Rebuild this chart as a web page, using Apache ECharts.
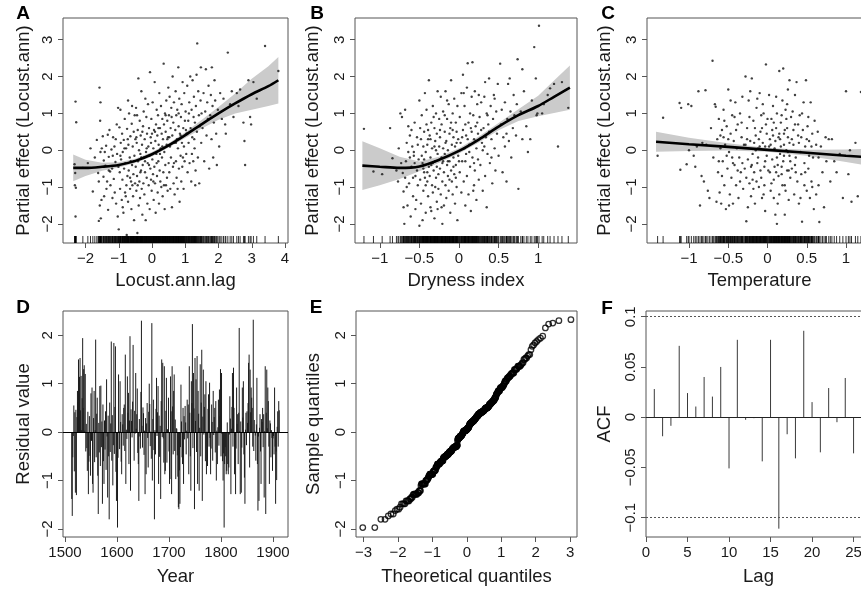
<!DOCTYPE html>
<html>
<head>
<meta charset="utf-8">
<script src="https://cdn.jsdelivr.net/npm/echarts@6.0.0/dist/echarts.min.js"></script>
<style>
  html, body { margin: 0; padding: 0; background: #fff; }
  #chart { width: 861px; height: 594px; }
</style>
</head>
<body>
<div id="chart"></div>
<script>
// ---- A: partial effect of Locust.ann.lag ----
const lagPts = [
  [-2.3,1.32],[-2.28,0.76],[-2.33,-0.38],[-2.31,-0.62],[-2.32,-0.95],[-2.29,-1.02],[-2.3,-1.8],[-2.08,-0.48],
  [-1.93,-0.35],[-1.85,0.05],[-1.78,-1.12],[-1.72,-0.2],[-1.66,0.28],[-1.62,-0.62],[-1.6,-0.85],[-1.58,1.7],
  [-1.55,1.3],[-1.56,0.8],[-1.57,-1.5],[-1.54,-1.85],[-1.52,-1.35],[-1.51,0.05],[-1.55,-0.05],[-1.6,-1.92],
  [-1.48,0.38],[-1.46,-0.72],[-1.45,-0.28],[-1.44,-1.25],[-1.42,-0.05],[-1.4,-0.42],[-1.38,0.12],[-1.37,-1.05],
  [-1.35,-0.85],[-1.33,0.42],[-1.32,-1.62],[-1.3,-0.18],[-1.28,0.55],[-1.26,-0.58],[-1.25,-0.95],[-1.22,0.02],
  [-1.2,-0.5],[-1.19,-1.3],[-1.17,0.35],[-1.15,-0.78],[-1.13,0.1],[-1.12,-1.15],[-1.1,-0.32],[-1.08,-1.45],
  [-1.06,0.7],[-1.05,-0.1],[-1.03,-1.8],[-1.02,1.15],[-1.01,-0.45],[-1.0,-2.15],
  [-0.98,0.62],[-0.97,-0.6],[-0.96,-1.05],[-0.95,1.1],[-0.94,0.2],[-0.93,-0.25],[-0.91,-1.35],[-0.9,0.45],
  [-0.89,-0.8],[-0.88,-0.05],[-0.86,-1.7],[-0.85,0.28],[-0.84,-0.5],[-0.82,0.85],[-0.81,-1.15],[-0.8,-0.35],
  [-0.78,0.05],[-0.77,-0.95],[-0.76,-2.3],[-0.75,0.58],[-0.74,-0.7],[-0.72,-1.4],[-0.71,0.15],[-0.7,-0.55],
  [-0.69,1.0],[-0.67,-0.2],[-0.66,-1.05],[-0.65,0.38],[-0.63,-0.85],[-0.62,-1.6],[-0.61,0.72],[-0.6,-0.4],
  [-0.58,0.1],[-0.57,-1.25],[-0.56,-0.65],[-0.55,0.5],[-0.54,-1.9],[-0.53,-0.15],[-0.52,0.95],[-0.51,-0.9],
  [-0.5,0.3],[-0.6,1.2],[-0.72,1.35],[-0.88,-1.55],[-0.66,-0.75],
  [-0.49,-0.45],[-0.48,1.15],[-0.47,-1.1],[-0.46,0.2],[-0.45,-0.7],[-0.44,-2.25],[-0.43,0.55],[-0.42,-0.3],
  [-0.41,1.95],[-0.4,-1.5],[-0.39,0.0],[-0.38,-0.85],[-0.37,0.8],[-0.36,-1.3],[-0.35,-0.1],[-0.34,0.4],
  [-0.33,-0.55],[-0.32,1.6],[-0.31,-1.05],[-0.3,0.15],[-0.29,-1.75],[-0.28,-0.4],[-0.27,0.65],[-0.26,-0.9],
  [-0.25,1.05],[-0.24,-0.2],[-0.23,-1.2],[-0.22,0.3],[-0.21,-0.6],[-0.2,1.4],[-0.19,-1.9],[-0.18,-0.05],
  [-0.17,0.9],[-0.16,-0.75],[-0.15,0.45],[-0.14,-1.45],[-0.13,-0.35],[-0.12,1.25],[-0.11,0.1],[-0.1,-0.95],
  [-0.09,0.6],[-0.08,-0.15],[-0.07,-1.6],[-0.06,2.12],[-0.05,-0.5],[-0.04,0.35],[-0.03,-0.8],[-0.02,0.85],
  [-0.01,-1.1],[-0.45,0.95],
  [0.01,-0.25],[0.02,1.3],[0.03,-0.65],[0.04,0.05],[0.05,-1.35],[0.06,0.55],[0.07,-0.45],[0.08,1.85],
  [0.09,-0.9],[0.1,0.25],[0.11,-1.7],[0.12,0.7],[0.13,-0.1],[0.14,1.1],[0.15,-0.7],[0.16,0.4],
  [0.17,-1.15],[0.18,0.95],[0.19,-0.3],[0.2,0.15],[0.21,-1.45],[0.22,1.55],[0.23,-0.55],[0.24,0.6],
  [0.25,-0.85],[0.26,0.05],[0.27,1.2],[0.28,-1.0],[0.29,0.45],[0.3,-0.2],[0.31,0.85],[0.32,-1.25],
  [0.33,0.3],[0.34,-0.6],[0.35,2.35],[0.36,0.7],[0.37,-0.05],[0.38,-1.6],[0.39,1.0],[0.4,-0.4],
  [0.41,0.5],[0.42,-0.95],[0.43,1.35],[0.44,0.15],[0.45,-0.75],[0.46,0.8],[0.47,-1.1],[0.48,0.35],
  [0.49,1.7],[0.5,-0.35],
  [0.51,0.95],[0.52,-0.6],[0.53,1.45],[0.54,0.1],[0.55,-1.05],[0.56,0.6],[0.57,-0.2],[0.58,1.15],
  [0.6,-1.55],[0.61,0.4],[0.62,2.0],[0.63,-0.45],[0.64,0.75],[0.65,-0.9],[0.66,1.3],[0.67,0.2],
  [0.68,-1.2],[0.7,0.55],[0.71,1.6],[0.72,-0.3],[0.73,0.95],[0.74,-0.75],[0.75,0.3],[0.76,1.1],
  [0.77,-1.05],[0.78,0.05],[0.79,2.25],[0.8,0.65],[0.81,-0.5],[0.82,1.4],[0.83,-1.4],[0.84,0.45],
  [0.86,-0.15],[0.87,0.9],[0.88,-0.85],[0.89,1.25],[0.9,0.2],[0.91,-0.45],[0.92,1.85],[0.94,0.6],
  [0.95,-1.05],[0.96,0.1],[0.97,1.55],[0.98,-0.3],[0.99,0.8],
  [1.01,1.05],[1.03,-0.1],[1.04,0.45],[1.06,1.75],[1.07,-0.6],[1.09,0.8],[1.1,0.2],[1.12,1.3],
  [1.13,-0.35],[1.15,2.0],[1.16,0.6],[1.18,-0.85],[1.19,1.1],[1.21,0.35],[1.22,1.9],[1.24,-0.3],
  [1.25,0.9],[1.26,1.45],[1.28,0.05],[1.29,0.75],[1.31,-0.55],[1.32,1.2],[1.34,2.05],[1.35,0.5],
  [1.36,2.9],[1.38,-0.2],[1.39,1.6],[1.41,0.95],[1.42,-0.9],[1.44,0.65],[1.46,1.35],[1.47,2.25],
  [1.48,0.2],[1.49,1.0],[1.3,-0.95],
  [1.52,0.6],[1.55,1.55],[1.57,-0.3],[1.6,1.05],[1.62,2.2],[1.64,0.4],[1.66,1.3],[1.68,0.85],
  [1.7,1.75],[1.72,-0.5],[1.75,0.95],[1.77,1.5],[1.79,0.3],[1.8,2.25],[1.82,1.2],[1.84,-0.2],
  [1.86,0.75],[1.88,1.9],[1.9,1.35],[1.93,0.45],[1.95,-0.4],[1.98,1.1],
  [2.02,0.1],[2.05,1.55],[2.1,0.85],[2.15,1.4],[2.2,0.7],[2.22,0.45],[2.28,2.65],[2.35,1.25],
  [2.4,1.6],[2.45,0.9],[2.55,1.55],[2.6,1.2],[2.65,1.65],[2.75,0.75],[2.78,0.25],[2.8,-0.4],
  [2.9,1.9],[2.95,0.9],[2.98,0.7],[3.05,1.85],[3.15,1.4],[3.4,2.83],[3.8,2.15],
  [-0.95,-0.15],[-0.83,0.05],[-0.79,-1.25],[-0.64,-0.3],[-0.59,-0.95],[-0.47,0.35],[-0.43,-0.95],[-0.35,-0.6],
  [-0.29,0.5],[-0.21,-0.3],[-0.16,0.05],[-0.09,-0.4],[-0.03,0.2],[0.04,-0.85],[0.09,0.5],[0.14,-0.35],
  [0.19,0.6],[0.24,-0.1],[0.31,0.1],[0.36,-0.95],[0.41,0.95],[0.46,0.3],[0.52,0.35],[0.59,0.9],
  [0.66,-0.35],[0.72,0.2],[0.8,1.0],[0.86,0.4],[0.93,-0.2],[1.02,0.55],[1.11,1.0],[1.2,-0.1],
  [1.27,0.3],[-1.18,-0.15],[-1.3,-0.55],[-1.09,0.3],[-0.73,0.3],[-0.55,-0.3],[-0.32,-0.2],[0.0,0.45]
];
const lagFitX = [-2.37, -2, -1.5, -1, -0.5, 0, 0.5, 1, 1.5, 2, 2.5, 3, 3.5, 3.8];
const lagFit  = [-0.48, -0.48, -0.45, -0.4, -0.29, -0.11, 0.13, 0.41, 0.71, 1.0, 1.27, 1.52, 1.74, 1.9];
const lagCI   = [0.36, 0.22, 0.11, 0.07, 0.06, 0.06, 0.06, 0.08, 0.12, 0.17, 0.27, 0.42, 0.54, 0.63];

// ---- B: Dryness index ----
const dryPts = [
  [-1.2,0.58],[-1.08,-0.58],[-0.97,-0.65],[-0.87,0.6],[-0.84,-0.22],[-0.79,-0.55],[-0.77,-0.85],[-0.76,0.05],
  [-0.74,1.0],[-0.72,0.9],[-0.71,-0.62],[-0.7,-1.12],[-0.7,-1.55],[-0.69,-2.0],[-0.68,1.1],[-0.67,-0.3],
  [-0.66,0.2],[-0.65,-1.5],[-0.64,-0.05],[-0.63,-0.9],[-0.62,0.4],[-0.61,-1.8],[-0.6,-0.45],[-0.59,0.1],
  [-0.58,-1.25],[-0.57,-0.15],[-0.56,0.75],[-0.55,-0.7],[-0.54,-1.35],[-0.53,0.35],[-0.52,-0.95],[-0.51,-0.25],
  [-0.5,1.35],[-0.5,-2.05],[-0.73,-0.35],[-0.66,-1.0],[-0.6,0.55],[-0.55,-1.6],[-0.53,-0.55],[-0.58,-0.75],
  [-0.64,0.65],[-0.57,-0.05],[-0.52,0.15],
  [-0.49,-0.8],[-0.48,0.3],[-0.48,-1.45],[-0.47,0.95],[-0.46,-0.35],[-0.45,-1.1],[-0.44,0.5],[-0.44,-0.6],
  [-0.43,1.55],[-0.42,-0.05],[-0.42,-1.7],[-0.41,0.7],[-0.4,-0.85],[-0.4,0.15],[-0.39,-1.25],[-0.38,1.9],
  [-0.38,-0.45],[-0.37,0.4],[-0.36,-1.55],[-0.36,-0.2],[-0.35,0.75],[-0.34,-0.95],[-0.34,0.05],[-0.33,1.2],
  [-0.33,-1.15],[-0.32,-0.55],[-0.31,0.6],[-0.31,-1.85],[-0.3,-0.3],[-0.3,0.25],[-0.29,1.0],[-0.29,-0.75],
  [-0.28,-1.4],[-0.28,0.45],[-0.27,-0.1],[-0.27,1.6],[-0.26,-0.65],[-0.26,-1.05],[-0.25,0.1],[-0.25,0.85],
  [-0.46,-1.9],[-0.41,1.1],[-0.39,0.55],[-0.37,-0.7],[-0.35,-1.65],[-0.32,0.9],[-0.3,-1.0],[-0.27,-1.6],
  [-0.44,-0.25],[-0.4,-0.6],[-0.36,0.3],[-0.33,-0.35],[-0.29,0.0],[-0.45,0.1],[-0.42,-0.95],
  [-0.24,-0.5],[-0.24,0.35],[-0.23,-1.2],[-0.23,1.45],[-0.22,-0.2],[-0.22,0.7],[-0.21,-0.85],[-0.21,-2.0],
  [-0.2,0.05],[-0.2,1.05],[-0.19,-0.6],[-0.19,-1.5],[-0.18,0.5],[-0.18,-0.1],[-0.17,1.6],[-0.17,-0.95],
  [-0.16,0.25],[-0.16,-1.3],[-0.15,-0.4],[-0.15,0.85],[-0.14,-0.7],[-0.14,0.0],[-0.13,1.25],[-0.13,-1.1],
  [-0.12,0.45],[-0.12,-0.3],[-0.11,-1.7],[-0.11,0.6],[-0.1,-0.55],[-0.1,1.9],[-0.09,0.15],[-0.09,-0.85],
  [-0.08,1.0],[-0.08,-1.2],[-0.07,-0.2],[-0.07,0.35],[-0.06,-0.65],[-0.06,1.4],[-0.05,-1.45],[-0.05,0.1],
  [-0.04,0.75],[-0.04,-0.4],[-0.03,-1.0],[-0.03,0.5],[-0.02,-1.9],[-0.02,1.2],[-0.01,-0.15],[-0.01,0.3],
  [-0.22,-1.55],[-0.18,0.95],[-0.12,-0.8],[-0.08,0.55],[-0.04,-0.75],[-0.15,1.35],[-0.2,-0.3],
  [0.01,-0.6],[0.01,0.9],[0.02,0.2],[0.03,-1.15],[0.03,1.55],[0.04,-0.3],[0.05,0.55],[0.05,2.05],
  [0.06,-0.85],[0.07,0.05],[0.07,1.2],[0.08,-1.5],[0.09,0.4],[0.09,-0.1],[0.1,1.7],[0.1,-0.7],
  [0.11,2.36],[0.12,0.75],[0.12,-1.2],[0.13,0.15],[0.14,1.0],[0.14,-0.45],[0.15,-1.65],[0.16,0.5],
  [0.16,1.45],[0.17,2.39],[0.17,-0.2],[0.18,0.95],[0.19,-0.95],[0.19,0.3],[0.2,1.6],[0.2,-0.55],
  [0.21,0.65],[0.22,-1.35],[0.22,0.05],[0.23,1.25],[0.24,-0.25],[0.24,0.45],[0.25,1.5],[0.25,-0.8],
  [0.06,1.55],[0.13,-0.05],[0.18,-1.1],[0.08,0.7],[0.21,0.25],
  [0.26,0.9],[0.27,-0.4],[0.28,1.3],[0.29,0.2],[0.3,-1.1],[0.31,0.6],[0.32,1.45],[0.33,-0.7],
  [0.34,0.35],[0.35,-1.55],[0.35,1.0],[0.36,-0.1],[0.37,0.7],[0.38,1.95],[0.39,-0.35],[0.4,1.2],
  [0.41,0.3],[0.42,-0.9],[0.43,0.85],[0.44,1.5],[0.45,0.05],[0.46,-0.55],[0.47,1.05],[0.48,0.45],
  [0.49,1.8],[0.5,-0.15],[0.3,0.0],[0.38,0.5],[0.45,1.4],[0.33,1.85],
  [0.52,2.35],[0.53,0.7],[0.55,-0.6],[0.56,0.35],[0.58,1.3],[0.6,-0.85],[0.61,0.85],[0.62,1.8],
  [0.63,0.25],[0.65,1.05],[0.66,-0.2],[0.68,0.6],[0.69,1.5],[0.7,0.95],[0.72,0.4],[0.74,2.47],
  [0.75,-1.05],[0.73,1.25],[0.58,0.1],[0.64,1.95],
  [0.78,1.05],[0.8,0.3],[0.8,2.2],[0.82,1.6],[0.85,0.65],[0.87,-0.05],[0.9,0.3],[0.92,1.35],
  [0.95,2.8],[0.97,1.95],[0.98,0.95],[0.99,1.0],
  [1.01,3.38],[1.05,1.0],[1.07,1.25],[1.12,1.5],[1.15,1.68],[1.2,1.8],[1.25,0.1],[1.3,1.85],[1.38,1.15],
  [-0.49,0.6],[-0.47,-0.15],[-0.43,-0.75],[-0.39,0.3],[-0.35,-0.4],[-0.31,0.1],[-0.28,-0.45],[-0.24,0.55],
  [-0.21,-0.35],[-0.17,0.2],[-0.14,-0.3],[-0.1,0.75],[-0.07,-0.45],[-0.03,0.2],[0.0,-0.3],[0.04,0.35],
  [0.08,-0.3],[0.11,0.3],[0.15,0.6],[0.19,-0.35],[0.23,0.75],[0.28,0.55],[0.32,0.1],[0.36,0.95],
  [0.41,-0.2],[0.47,0.6],[0.54,1.1],[0.6,0.45],[-0.62,-0.2],[-0.56,-0.35],[-0.68,-0.75],[-0.45,-0.5]
];
const dryFitX = [-1.22, -1, -0.75, -0.5, -0.25, 0, 0.25, 0.5, 0.75, 1, 1.2, 1.4];
const dryFit  = [-0.42, -0.45, -0.48, -0.44, -0.26, -0.02, 0.29, 0.64, 0.95, 1.2, 1.45, 1.7];
const dryCI   = [0.66, 0.5, 0.3, 0.13, 0.08, 0.07, 0.08, 0.1, 0.16, 0.28, 0.44, 0.6];

// ---- C: Temperature ----
const tempPts = [
  [-1.4,-0.15],[-1.33,0.88],[-1.12,1.28],[-1.1,1.15],[-1.11,-0.53],[-1.03,-0.38],[-1.01,1.25],[-1.0,0.0],
  [-0.97,1.2],[-0.94,-0.15],[-0.92,-0.45],[-0.9,0.1],[-0.88,1.6],[-0.86,-1.5],[-0.84,-0.7],[-0.83,0.2],
  [-0.81,-0.85],[-0.79,1.63],[-0.78,0.15],[-0.76,-1.1],[-0.74,-1.3],[-0.72,0.6],[-0.7,2.43],[-0.69,-0.2],
  [-0.67,1.25],[-0.66,1.18],[-0.65,-1.4],[-0.64,0.3],[-0.63,-0.6],[-0.62,0.85],[-0.61,-1.15],[-0.6,0.05],[-0.6,0.4],
  [-0.59,-1.45],[-0.58,0.55],[-0.57,-0.3],[-0.56,1.1],[-0.55,-0.95],[-0.54,0.15],[-0.53,-1.6],[-0.52,0.65],
  [-0.51,-0.5],[-0.5,1.65],[-0.49,-0.05],[-0.48,-1.2],[-0.47,0.45],[-0.46,-0.75],[-0.45,0.95],[-0.44,-1.45],
  [-0.43,0.25],[-0.42,-0.4],[-0.41,1.3],[-0.4,-0.95],[-0.39,0.05],[-0.38,0.7],[-0.37,-1.3],[-0.36,-0.2],
  [-0.35,1.0],[-0.34,-0.6],[-0.33,0.35],[-0.32,1.45],[-0.31,-1.05],[-0.3,0.15],[-0.58,-0.7],[-0.52,-0.15],
  [-0.47,1.35],[-0.44,-0.35],[-0.4,0.55],[-0.35,-0.85],[-0.32,-0.35],[-0.49,-1.5],[-0.56,0.35],[-0.42,0.9],
  [-0.29,-0.5],[-0.28,2.0],[-0.27,-1.93],[-0.26,0.6],[-0.25,-0.25],[-0.24,1.35],[-0.23,-0.9],[-0.22,0.25],
  [-0.21,-1.25],[-0.2,1.95],[-0.19,-0.1],[-0.18,0.8],[-0.17,-0.6],[-0.16,-1.45],[-0.15,0.4],[-0.14,1.15],
  [-0.13,-0.35],[-0.12,0.05],[-0.11,-1.0],[-0.1,1.55],[-0.09,0.5],[-0.08,-0.75],[-0.07,-1.3],[-0.06,0.2],
  [-0.05,1.0],[-0.04,-0.45],[-0.03,-1.65],[-0.02,2.33],[-0.02,0.7],[-0.01,-0.15],[-0.28,0.15],[-0.25,-1.55],
  [-0.23,0.9],[-0.2,-0.4],[-0.18,-1.05],[-0.15,0.0],[-0.13,1.4],[-0.11,0.3],[-0.09,-0.55],[-0.06,1.25],
  [-0.04,-0.95],[-0.01,0.45],[-0.27,-0.75],[-0.22,1.6],[-0.16,0.6],[-0.12,-0.2],[-0.08,0.95],[-0.05,-1.2],
  [-0.03,0.1],[-0.19,-0.8],
  [0.01,-0.55],[0.02,1.5],[0.03,0.3],[0.04,-1.1],[0.05,0.85],[0.06,-0.25],[0.07,1.2],[0.08,-0.8],
  [0.09,0.05],[0.1,-1.75],[0.11,0.6],[0.12,-2.0],[0.12,1.0],[0.13,-0.4],[0.14,0.35],[0.15,2.15],
  [0.15,-1.2],[0.16,-0.1],[0.17,0.75],[0.18,-0.65],[0.19,1.35],[0.2,2.22],[0.2,-0.3],[0.21,0.45],
  [0.22,-1.75],[0.22,-0.95],[0.23,1.1],[0.24,0.0],[0.25,-0.55],[0.25,0.6],[0.26,1.65],[0.27,-1.35],
  [0.28,1.9],[0.28,0.2],[0.29,-0.75],[0.3,0.9],[0.03,-0.6],[0.06,0.55],[0.09,-0.45],[0.11,1.45],
  [0.13,-1.45],[0.16,0.3],[0.18,0.95],[0.21,-0.15],[0.23,-1.1],[0.26,0.35],[0.29,-0.3],[0.02,0.1],
  [0.08,-1.3],[0.14,-0.7],[0.17,0.1],[0.24,0.85],[0.27,-0.55],[0.05,-0.9],[0.1,0.25],[0.19,-0.95],
  [0.22,0.55],[0.12,-0.2],[0.26,-0.05],[0.07,0.4],
  [0.31,-0.5],[0.32,1.05],[0.33,0.15],[0.34,-1.2],[0.35,0.7],[0.36,-0.2],[0.37,1.85],[0.38,-0.85],
  [0.39,0.4],[0.4,-1.45],[0.41,0.95],[0.42,-0.05],[0.43,-0.65],[0.44,-1.94],[0.45,0.55],[0.46,1.3],
  [0.47,-0.35],[0.48,0.1],[0.49,1.9],[0.5,-1.1],[0.51,0.65],[0.52,-0.5],[0.53,0.25],[0.54,-1.3],
  [0.55,1.3],[0.56,-0.85],[0.57,0.45],[0.58,-0.2],[0.59,-1.6],[0.6,0.8],[0.33,0.55],[0.36,-0.6],
  [0.4,0.2],[0.44,1.0],[0.47,-0.95],[0.5,0.3],[0.53,-0.15],[0.57,-1.0],[0.35,1.5],[0.42,-1.3],
  [0.62,-1.2],[0.64,0.5],[0.65,-0.95],[0.66,-1.95],[0.68,0.1],[0.7,-0.6],[0.72,-1.55],[0.74,0.35],
  [0.75,-0.3],[0.78,0.3],[0.8,-0.85],[0.82,0.3],[0.85,-0.3],[0.88,-0.6],[0.62,0.15],
  [0.92,-0.1],[0.96,-1.3],[1.0,1.6],[1.03,-0.65],[1.05,0.0],[1.07,-1.4],[1.12,0.2],[1.15,-1.25],[1.19,1.58],
  [-0.5,0.3],[-0.45,-0.2],[-0.38,-0.55],[-0.33,0.75],[-0.26,0.3],[-0.21,-0.45],[-0.17,0.2],[-0.14,-0.85],
  [-0.1,0.1],[-0.07,0.6],[-0.03,-0.3],[0.0,0.85],[0.04,0.15],[0.08,0.75],[0.11,-0.6],[0.15,0.45],
  [0.18,-0.45],[0.21,0.15],[0.25,1.25],[0.28,-0.15],[0.31,0.3],[0.35,-0.4],[0.39,0.7],[0.43,0.35],
  [0.48,-0.6],[0.52,0.9],[0.56,0.1],[-0.62,-0.3],[-0.55,0.8],[0.65,-0.2]
];
const tempFitX = [-1.42, -1, -0.5, 0, 0.5, 1, 1.33];
const tempFit  = [0.23, 0.16, 0.09, 0.01, -0.07, -0.15, -0.2];
const tempCI   = [0.27, 0.18, 0.1, 0.05, 0.08, 0.17, 0.24];

// ---- D: residuals by year (1513-1912) ----
const firstYear = 1513;
const residuals = [
  -1.38,-1.73,-0.52,-0.08,0.55,-0.81,0.41,-1.25,0.46,-1.3,0.31,0.85,0.62,1.5,0.79,1.14,1.53,0.45,1.16,0.04,
  0.7,1.94,0.5,1.3,1.38,0.03,1.2,-0.4,0.17,-0.33,-0.8,0.42,-1.28,-0.61,0.33,-0.49,-0.9,0.8,-0.18,0.92,
  -1.07,-1.25,0.29,0.85,-0.62,0.04,1.91,-0.52,0.38,0.71,-0.9,-1.69,0.19,-0.42,0.95,-0.7,0.96,-0.31,0.22,-1.48,
  0.57,-0.6,-1.07,0.24,-0.36,0.43,-0.78,1.09,-0.09,-1.35,0.34,-0.5,-1.8,0.61,-0.41,0.18,1.87,-0.59,0.35,-1.1,
  -0.27,1.84,-0.45,0.52,1.77,-0.82,-1.42,-0.02,-1.97,-0.53,1.19,0.02,-0.35,1.05,0.21,-0.61,-0.87,0.37,0.16,-0.28,
  0.5,0.57,-0.39,1.6,-1.07,0.05,-0.14,1.15,0.4,0.81,-0.66,0.24,1.98,-1.21,0.47,0.23,-0.11,0.63,1.8,0.01,
  -0.59,0.44,-0.03,1.22,0.07,0.37,0.9,-0.43,-0.66,-1.42,0.27,-0.09,-0.34,0.83,2.3,0.13,-0.32,0.51,0.39,-0.47,
  0.03,-1.28,0.29,-0.87,0.18,0.6,-0.12,-0.73,0.42,1.0,0.58,-0.29,0.01,-0.55,2.25,-1.0,0.27,0.67,-0.37,-1.8,
  0.04,-0.46,0.48,1.12,-0.08,0.41,0.95,-1.07,0.34,-0.51,0.13,-1.38,0.64,1.5,-0.1,1.43,-0.13,-0.63,1.36,-0.87,
  -0.8,0.44,1.12,-0.63,0.06,-0.02,0.71,-0.4,-1.07,-0.97,1.15,0.43,-1.28,1.36,0.53,-0.46,0.85,1.19,-0.39,0.26,
  -0.97,0.08,0.07,-0.48,-0.92,-1.55,-1.59,-0.79,-1.48,-0.31,0.98,0.22,-0.52,-0.66,0.5,-1.07,0.33,-0.15,0.54,0.2,
  -0.46,0.03,0.67,-0.13,0.57,-0.87,1.36,0.4,-0.5,-1.21,1.05,0.6,2.23,-0.33,1.22,0.49,-1.59,1.53,0.23,1.09,
  -0.41,1.57,-1.07,0.85,0.38,-1.21,0.09,1.4,-0.5,0.61,1.7,-1.42,0.32,1.29,-0.05,0.52,0.78,-0.6,1.05,-0.87,
  0.01,-0.7,0.48,0.78,-0.3,1.02,-0.12,-0.87,-0.34,0.57,0.21,-0.59,0.85,-0.06,0.31,0.5,-0.42,0.64,-1.0,0.03,
  -0.66,0.1,0.67,-0.28,0.88,0.33,1.3,-0.5,1.22,-0.04,-0.6,-1.0,-0.44,-1.97,-0.66,-0.31,-0.5,-0.87,-0.8,0.2,
  -0.66,-0.87,-0.73,-0.05,0.74,0.28,-1.28,0.07,0.52,1.22,-0.3,1.33,0.5,-0.87,-0.08,-1.28,-0.34,0.92,0.17,0.37,
  -0.66,0.4,2.15,0.02,-1.28,0.22,-1.25,-0.32,0.92,0.3,1.05,-0.46,-0.94,-1.48,0.05,0.4,-0.27,0.43,0.19,0.6,
  1.43,1.6,-0.73,1.29,0.41,0.92,0.71,0.5,-0.3,2.32,-0.39,0.25,0.03,-0.07,-0.59,0.16,1.12,-0.66,-1.62,-0.09,
  -1.42,0.09,0.37,-0.4,-1.07,0.27,0.21,0.5,-0.31,0.37,-1.35,0.02,1.36,-1.69,0.4,1.29,0.08,0.92,0.64,-0.3,
  -1.07,0.24,0.18,-0.52,0.04,-0.12,-0.8,-0.13,-0.08,-0.46,0.92,-0.3,-1.48,-0.4,-0.99,0.11,0.43,-0.3,0.64,0.45
];

// ---- F: autocorrelation of residuals, lags 1..25 ----
const acfVals = [0.028,-0.019,-0.0086,0.071,0.024,0.0106,0.040,0.0205,0.050,-0.051,0.077,-0.0026,-0.001,
  -0.044,0.077,-0.111,-0.017,-0.041,0.086,0.015,-0.035,0.029,-0.005,0.039,-0.036];
const acfBound = 0.0974;

// tick labels
const ticksEffect = [-2, -1, 0, 1, 2, 3];
const ticksLag = [-2, -1, 0, 1, 2, 3, 4];
const ticksHalf = [-1, -0.5, 0, 0.5, 1];
const ticksResid = [-2, -1, 0, 1, 2];
const ticksYear = [1500, 1600, 1700, 1800, 1900];
const ticksTheo = [-3, -2, -1, 0, 1, 2, 3];
const ticksAcf = [-0.1, -0.05, 0, 0.05, 0.1];
const ticksLagF = [0, 5, 10, 15, 20, 25];

// theoretical normal quantiles (Acklam), as qqnorm does
function qnorm(p) {
  const a = [-3.969683028665376e+01, 2.209460984245205e+02, -2.759285104469687e+02, 1.383577518672690e+02, -3.066479806614716e+01, 2.506628277459239e+00];
  const b = [-5.447609879822406e+01, 1.615858368580409e+02, -1.556989798598866e+02, 6.680131188771972e+01, -1.328068155288572e+01];
  const c = [-7.784894002430293e-03, -3.223964580411365e-01, -2.400758277161838e+00, -2.549732539343734e+00, 4.374664141464968e+00, 2.938163982698783e+00];
  const d = [7.784695709041462e-03, 3.224671290700398e-01, 2.445134137142996e+00, 3.754408661907416e+00];
  const pl = 0.02425;
  if (p < pl) {
    const q = Math.sqrt(-2 * Math.log(p));
    return (((((c[0]*q+c[1])*q+c[2])*q+c[3])*q+c[4])*q+c[5]) / ((((d[0]*q+d[1])*q+d[2])*q+d[3])*q+1);
  }
  if (p > 1 - pl) {
    const q = Math.sqrt(-2 * Math.log(1 - p));
    return -(((((c[0]*q+c[1])*q+c[2])*q+c[3])*q+c[4])*q+c[5]) / ((((d[0]*q+d[1])*q+d[2])*q+d[3])*q+1);
  }
  const q = p - 0.5, r = q * q;
  return (((((a[0]*r+a[1])*r+a[2])*r+a[3])*r+a[4])*r+a[5])*q / (((((b[0]*r+b[1])*r+b[2])*r+b[3])*r+b[4])*r+1);
}

const font = '"Liberation Sans", Arial, Helvetica, sans-serif';
const txt = '#1a1a1a';
const axisCol = '#555';
const minus = v => String(v).replace('-', '\u2212');

function xAx(i, min, max, ticks, name, gap) {
  return {
    type: 'value', gridIndex: i, min: min, max: max,
    axisLine: { show: false, onZero: false }, splitLine: { show: false },
    axisTick: { show: true, customValues: ticks, length: 5, lineStyle: { color: axisCol } },
    axisLabel: { customValues: ticks, formatter: minus, margin: 8, fontSize: 15, color: txt, fontFamily: font },
    name: name, nameLocation: 'middle', nameGap: gap,
    nameTextStyle: { fontSize: 18.5, color: txt, fontFamily: font }
  };
}
function yAx(i, min, max, ticks, name, gap) {
  return {
    type: 'value', gridIndex: i, min: min, max: max,
    axisLine: { show: false, onZero: false }, splitLine: { show: false },
    axisTick: { show: true, customValues: ticks, length: 5, lineStyle: { color: axisCol } },
    axisLabel: { customValues: ticks, formatter: minus, rotate: 90, margin: 8, fontSize: 15, color: txt, fontFamily: font },
    name: name, nameLocation: 'middle', nameGap: gap, nameRotate: 90,
    nameTextStyle: { fontSize: 18.5, color: txt, fontFamily: font }
  };
}
// panels C and F run past the right edge of the page, as in the original figure
function grid(left, top, width, height) {
  return {
    left: left, top: top, width: width, height: height, show: true, outerBoundsMode: 'none',
    borderColor: axisCol, borderWidth: 1, backgroundColor: 'transparent'
  };
}

// confidence band polygon through the axes
function band(idx, xs, fit, ci) {
  return {
    type: 'custom', xAxisIndex: idx, yAxisIndex: idx, data: [[xs[0], fit[0]]], silent: true, z: 1,
    renderItem: function (params, api) {
      const pts = [];
      for (let i = 0; i < xs.length; i++) pts.push(api.coord([xs[i], fit[i] + ci[i]]));
      for (let i = xs.length - 1; i >= 0; i--) pts.push(api.coord([xs[i], fit[i] - ci[i]]));
      return { type: 'polygon', shape: { points: pts }, style: { fill: '#cbcbcb' } };
    }
  };
}
function fitLine(idx, xs, fit, smooth) {
  return {
    type: 'line', xAxisIndex: idx, yAxisIndex: idx, data: xs.map((x, i) => [x, fit[i]]),
    showSymbol: false, smooth: smooth, silent: true, z: 4,
    lineStyle: { color: '#000', width: 2.6 }
  };
}
function dots(idx, pts) {
  return {
    type: 'scatter', xAxisIndex: idx, yAxisIndex: idx, data: pts, symbolSize: 2.4, silent: true, z: 3,
    itemStyle: { color: '#111' }
  };
}
function rug(idx, pts, ymin) {
  return {
    type: 'scatter', xAxisIndex: idx, yAxisIndex: idx, data: pts.map(p => [p[0], ymin]),
    symbol: 'rect', symbolSize: [1, 7], symbolOffset: [0, -3.5], clip: false, silent: true, z: 3,
    itemStyle: { color: '#000' }
  };
}
function spikes(idx, data, color) {
  return {
    type: 'custom', xAxisIndex: idx, yAxisIndex: idx, data: data, encode: { x: 0, y: 1 }, silent: true, z: 2,
    renderItem: function (params, api) {
      const p0 = api.coord([api.value(0), 0]);
      const p1 = api.coord([api.value(0), api.value(1)]);
      return { type: 'line', shape: { x1: p0[0], y1: p0[1], x2: p1[0], y2: p1[1] }, style: { stroke: color, lineWidth: 1 } };
    }
  };
}
function hLines(idx, lines) {
  return {
    type: 'line', xAxisIndex: idx, yAxisIndex: idx, data: [], silent: true, z: 3,
    markLine: { silent: true, symbol: 'none', label: { show: false }, animation: false, data: lines }
  };
}

const years = residuals.map((_, i) => firstYear + i);
const residPts = residuals.map((v, i) => [years[i], v]);
const sortedRes = residuals.slice().sort((a, b) => a - b);
const qqPts = sortedRes.map((v, i) => [qnorm((i + 0.5) / sortedRes.length), v]);
const acfPts = acfVals.map((v, i) => [i + 1, v]);

const effMin = -2.52, effMax = 3.59;

const option = {
  animation: false,
  backgroundColor: '#fff',
  grid: [
    grid(63, 18, 225, 225),
    grid(355, 18, 222, 225),
    grid(647, 18, 225, 225),
    grid(63, 311, 225, 226),
    grid(356, 311, 221, 226),
    grid(646, 311, 225, 226)
  ],
  xAxis: [
    xAx(0, -2.677, 4.09, ticksLag, 'Locust.ann.lag', 28),
    xAx(1, -1.313, 1.49, ticksHalf, 'Dryness index', 28),
    xAx(2, -1.535, 1.331, ticksHalf, 'Temperature', 28),
    xAx(3, 1496.2, 1928.8, ticksYear, 'Year', 30),
    xAx(4, -3.22, 3.2, ticksTheo, 'Theoretical quantiles', 30),
    xAx(5, 0, 27.1, ticksLagF, 'Lag', 30)
  ],
  yAxis: [
    yAx(0, effMin, effMax, ticksEffect, 'Partial effect (Locust.ann)', 30),
    yAx(1, effMin, effMax, ticksEffect, 'Partial effect (Locust.ann)', 33),
    yAx(2, effMin, effMax, ticksEffect, 'Partial effect (Locust.ann)', 33),
    yAx(3, -2.165, 2.5, ticksResid, 'Residual value', 30),
    yAx(4, -2.165, 2.5, ticksResid, 'Sample quantiles', 33),
    yAx(5, -0.1193, 0.1057, ticksAcf, 'ACF', 32)
  ],
  graphic: [
    ['A', 23, 14], ['B', 317, 14], ['C', 608, 14],
    ['D', 23, 308], ['E', 316, 308], ['F', 607, 309]
  ].map(l => ({
    type: 'text', x: l[1], y: l[2],
    style: { text: l[0], fill: '#000', font: 'bold 19px ' + font, align: 'center', verticalAlign: 'middle' }
  })),
  series: [
    band(0, lagFitX, lagFit, lagCI), dots(0, lagPts), rug(0, lagPts, effMin), fitLine(0, lagFitX, lagFit, 0.3),
    band(1, dryFitX, dryFit, dryCI), dots(1, dryPts), rug(1, dryPts, effMin), fitLine(1, dryFitX, dryFit, 0.3),
    band(2, tempFitX, tempFit, tempCI), dots(2, tempPts), rug(2, tempPts, effMin), fitLine(2, tempFitX, tempFit, false),
    spikes(3, residPts, '#1c1c1c'),
    hLines(3, [{ yAxis: 0, lineStyle: { color: '#000', width: 1, type: 'solid' } }]),
    {
      type: 'scatter', xAxisIndex: 4, yAxisIndex: 4, data: qqPts, symbol: 'circle', symbolSize: 5.5, silent: true,
      itemStyle: { color: 'transparent', borderColor: '#000', borderWidth: 1.3 }
    },
    spikes(5, acfPts, '#3a3a3a'),
    hLines(5, [
      { yAxis: 0, lineStyle: { color: '#222', width: 1, type: 'solid' } },
      { yAxis: acfBound, lineStyle: { color: '#555', width: 1, type: [2, 2] } },
      { yAxis: -acfBound, lineStyle: { color: '#555', width: 1, type: [2, 2] } }
    ])
  ]
};

const chart = echarts.init(document.getElementById('chart'), null, { renderer: 'canvas' });
chart.setOption(option);
</script>
</body>
</html>
